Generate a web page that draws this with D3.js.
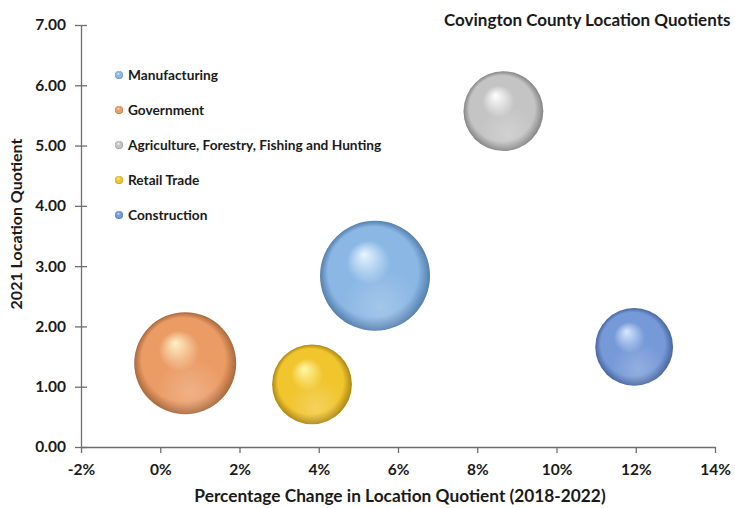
<!DOCTYPE html>
<html>
<head>
<meta charset="utf-8">
<script src="https://cdn.jsdelivr.net/npm/d3@7"></script>
<style>
  body { margin: 0; background: #fff; }
  text { font-family: Lato, "Open Sans", sans-serif; font-weight: bold; fill: #1a1a1a; }
</style>
</head>
<body>
<div id="chart"></div>
<script>
// data
const industries = ["Manufacturing", "Government", "Agriculture, Forestry, Fishing and Hunting", "Retail Trade", "Construction"];
const pctChange = [5.42, 0.63, 8.66, 3.83, 11.96];
const locQuotient = [2.84, 1.39, 5.57, 1.04, 1.66];
const bubbleSize = [1500, 1290, 790, 790, 750];
const xTicks = [-2, 0, 2, 4, 6, 8, 10, 12, 14];
const yTicks = [0, 1, 2, 3, 4, 5, 6, 7];

const colors = [
  { base: "#8ab7e4", light: "#e6f6ff", dark: "#557fac" },
  { base: "#eb9b64", light: "#fff0c8", dark: "#a8693d" },
  { base: "#c4c4c4", light: "#ffffff", dark: "#858585" },
  { base: "#f1c52e", light: "#fff8a8", dark: "#ad8712" },
  { base: "#7699d8", light: "#d8e8ff", dark: "#48669f" }
];

const width = 735, height = 508;
const margin = { top: 25, right: 20, bottom: 61, left: 81 };

const svg = d3.select("#chart").append("svg")
  .attr("width", width).attr("height", height);

const defs = svg.append("defs");
colors.forEach((c, i) => {
  const g = defs.append("radialGradient")
    .attr("id", "sphere" + i)
    .attr("cx", "50%").attr("cy", "50%").attr("r", "50%")
    .attr("fx", "40%").attr("fy", "30%");
  g.append("stop").attr("offset", "0%").attr("stop-color", c.light);
  g.append("stop").attr("offset", "40%").attr("stop-color", c.base);
  g.append("stop").attr("offset", "82%").attr("stop-color", c.base);
  g.append("stop").attr("offset", "100%").attr("stop-color", c.dark);
});
// soft reflection near the bottom
const refl = defs.append("radialGradient")
  .attr("id", "reflect")
  .attr("cx", "55%").attr("cy", "78%").attr("r", "35%");
refl.append("stop").attr("offset", "0%").attr("stop-color", "#fff").attr("stop-opacity", 0.22);
refl.append("stop").attr("offset", "100%").attr("stop-color", "#fff").attr("stop-opacity", 0);

const x = d3.scaleLinear().domain([-2, 14]).range([margin.left, width - margin.right]);
const y = d3.scaleLinear().domain([0, 7]).range([height - margin.bottom, margin.top]);
const r = d3.scaleSqrt().domain([0, d3.max(bubbleSize)]).range([0, 55]);

// y axis
const yAxis = svg.append("g")
  .attr("transform", `translate(${x(-2)},0)`)
  .call(d3.axisLeft(y).tickValues(yTicks).tickFormat(d3.format(".2f")).tickSize(6).tickSizeOuter(0));
yAxis.selectAll(".tick line").attr("x1", 6).attr("x2", -6);
yAxis.selectAll("text").attr("x", -15).attr("font-size", 15.5).attr("font-family", null);

// x axis
const xAxis = svg.append("g")
  .attr("transform", `translate(0,${y(0)})`)
  .call(d3.axisBottom(x).tickValues(xTicks).tickFormat(d => d + "%").tickSize(6).tickSizeOuter(0));
xAxis.selectAll("text").attr("y", 17).attr("font-size", 15.5).attr("font-family", null);

svg.selectAll(".domain, .tick line").attr("stroke", "#6e6e6e").attr("stroke-width", 1.3);

// bubbles
const data = industries.map((name, i) => ({ name, x: pctChange[i], y: locQuotient[i], s: bubbleSize[i], i }));
const bubbles = svg.append("g").selectAll("g")
  .data(data.slice().sort((a, b) => b.s - a.s))
  .join("g")
  .attr("transform", d => `translate(${x(d.x)},${y(d.y)})`);
bubbles.append("circle").attr("r", d => r(d.s)).attr("fill", d => `url(#sphere${d.i})`);
bubbles.append("circle").attr("r", d => r(d.s)).attr("fill", "url(#reflect)");

// legend
const legend = svg.append("g").selectAll("g")
  .data(data)
  .join("g")
  .attr("transform", (d, i) => `translate(119,${75 + i * 35})`);
legend.append("circle").attr("r", 4).attr("fill", d => `url(#sphere${d.i})`);
legend.append("text").attr("x", 9).attr("dy", "0.35em").attr("font-size", 13.7).text(d => d.name);

// title
svg.append("text").attr("x", 444).attr("y", 26).attr("font-size", 17)
  .text("Covington County Location Quotients");

// axis titles
svg.append("text")
  .attr("x", 400).attr("y", 502).attr("text-anchor", "middle").attr("font-size", 17.3)
  .text("Percentage Change in Location Quotient (2018-2022)");
svg.append("text")
  .attr("transform", "translate(22,224) rotate(-90)")
  .attr("text-anchor", "middle").attr("font-size", 16)
  .text("2021 Location Quotient");
</script>
</body>
</html>
